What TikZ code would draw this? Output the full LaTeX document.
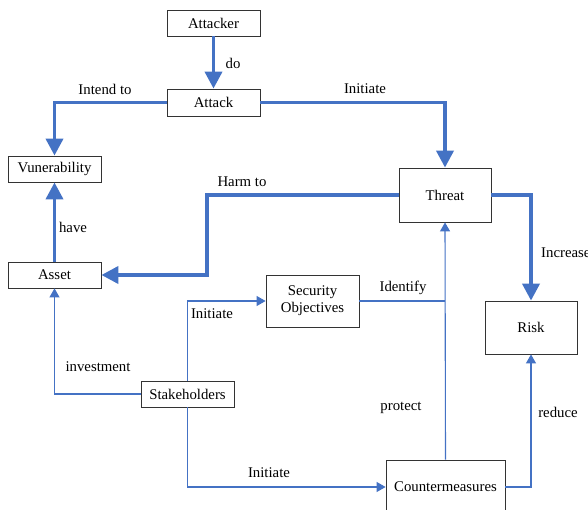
\documentclass[tikz,border=0pt]{standalone}
\usepackage{fontspec}
\setmainfont{Liberation Serif}
\usetikzlibrary{arrows.meta}
\definecolor{linkblue}{HTML}{4472C4}
\tikzset{
  box/.style={draw=black!80, line width=0.8pt, fill=white, align=center, inner sep=1pt},
  bigarrow/.style={draw=linkblue, line width=3.8pt, -{Triangle[width=17pt,length=17pt]}},
  smallarrow/.style={draw=linkblue, line width=1.1pt, -{Triangle[width=10pt,length=9pt]}},
  smallline/.style={draw=linkblue, line width=1.1pt},
  lbl/.style={inner sep=0pt}
}
\begin{document}
\begin{tikzpicture}[x=1pt,y=-1pt,line join=miter,font=\fontsize{14.8}{17}\selectfont]
  \useasboundingbox (0,0) rectangle (588,510);
  % Khung
  \node[box, minimum width=93pt, minimum height=26pt] (attacker) at (213.5,23) {Attacker};
  \node[box, minimum width=93pt, minimum height=27pt] (attack) at (213.5,102.5) {Attack};
  \node[box, minimum width=93pt, minimum height=26pt] (vuln) at (54.5,169) {Vunerability};
  \node[box, minimum width=92pt, minimum height=54pt] (threat) at (445,195) {Threat};
  \node[box, minimum width=93pt, minimum height=26pt] (asset) at (54.5,275) {Asset};
  \node[box, minimum width=93pt, minimum height=52pt] (secobj) at (312.5,301) {Security\\Objectives};
  \node[box, minimum width=92pt, minimum height=53pt] (risk) at (531,327.5) {Risk};
  \node[box, minimum width=93pt, minimum height=26pt] (stake) at (187.5,394) {Stakeholders};
  \node[box, minimum width=119pt, minimum height=54pt] (counter) at (445.5,487) {Countermeasures};
  % Mũi tên đậm
  \draw[bigarrow] (attacker.south) -- (attack.north);
  \draw[bigarrow] (attack.west) -| (vuln.north);
  \draw[bigarrow] (attack.east) -| (threat.north);
  \draw[bigarrow] (threat.west) -- ++(-192,0) |- (asset.east);
  \draw[bigarrow] (threat.east) -| (risk.north);
  \draw[bigarrow] (asset.north) -- (vuln.south);
  % Mũi tên mảnh
  \draw[smallarrow] (stake.west) -| (asset.south);
  \draw[smallarrow] (stake.north) |- (secobj.west);
  \draw[smallarrow] (stake.south) |- (counter.west);
  \draw[smallarrow] (counter.north) -- (threat.south);
  \draw[smallline] (secobj.east) -- (secobj.east -| threat.south);
  \draw[smallarrow] (counter.east) -| (risk.south);
  % Nhãn
  \node[lbl] (l-do) at (233,63) {do};
  \node[lbl] (l-intend) at (105,89) {Intend to};
  \node[lbl] (l-init1) at (365,89) {Initiate};
  \node[lbl] (l-harm) at (242,182) {Harm to};
  \node[lbl] (l-have) at (73,227) {have};
  \node[lbl, anchor=west] (l-incr) at (541,253) {Increase};
  \node[lbl] (l-ident) at (403,288) {Identify};
  \node[lbl] (l-init2) at (212,314) {Initiate};
  \node[lbl] (l-invest) at (98,367) {investment};
  \node[lbl] (l-protect) at (401,408) {protect};
  \node[lbl] (l-reduce) at (558,412) {reduce};
  \node[lbl] (l-init3) at (269,473) {Initiate};
\end{tikzpicture}
\end{document}
